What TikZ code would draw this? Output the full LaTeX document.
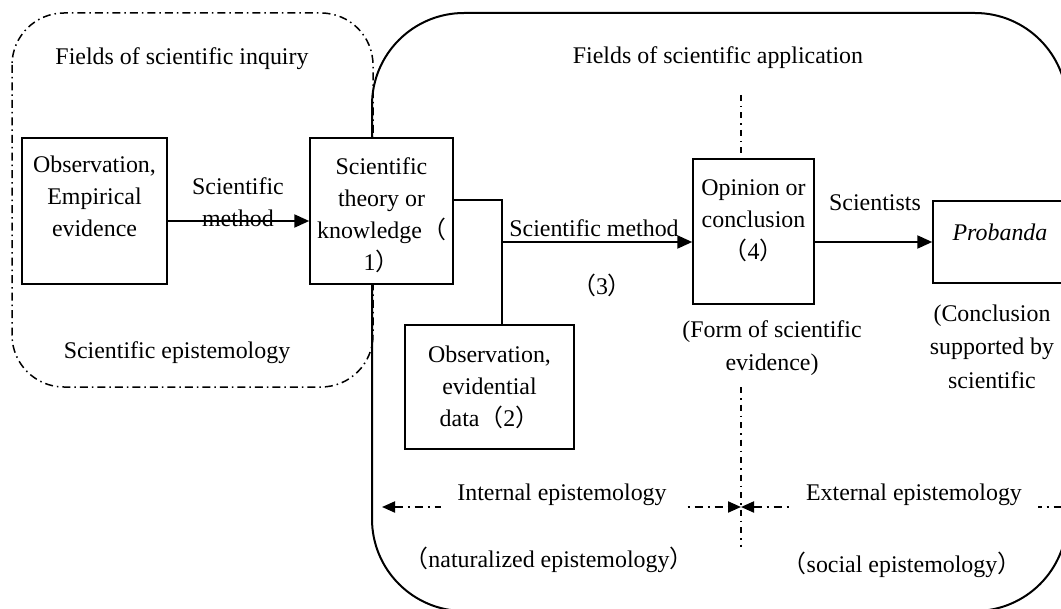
\documentclass[tikz,border=0pt]{standalone}
\usepackage{fontspec}
\setmainfont{Liberation Serif}
\newfontfamily\cjk{Noto Sans CJK SC}
\usetikzlibrary{arrows.meta}
\begin{document}
\begin{tikzpicture}[x=1bp,y=-1bp,
  font=\fontsize{24}{32}\selectfont,
  box/.style={draw,line width=1.5bp,fill=white,inner sep=0pt},
  txt/.style={align=center,inner sep=0pt},
  wtxt/.style={align=center,fill=white,inner xsep=16bp,inner ysep=6bp},
  arr/.style={line width=2.2bp,-{Triangle[length=15bp,width=13bp]}},
  conn/.style={line width=1.5bp},
  ddash/.style={line width=1.5bp,dash pattern=on 8bp off 4bp on 1.5bp off 4bp},
  vdash/.style={line width=1.3bp,dash pattern=on 6bp off 5bp on 1.5bp off 5bp},
  bdash/.style={line width=2bp,dash pattern=on 8bp off 5bp on 2bp off 5bp},
  btip/.tip={Triangle[length=13bp,width=11bp]}]
\useasboundingbox (0,0) rectangle (1061,609);
\clip (0,0) rectangle (1061,609);
% regions
\draw[line width=2bp,rounded corners=92bp] (372,13) rectangle (1067,611);
\draw[ddash,rounded corners=52bp] (12,13) rectangle (373,387);
% region titles
\node[txt] (inq) at (182,59) {Fields of scientific inquiry};
\node[txt] (epi) at (177,353) {Scientific epistemology};
\node[txt] (app) at (718,58) {Fields of scientific application};
% vertical divider
\coordinate (vt) at (741,95);
\coordinate (vb1) at (741,387);
\coordinate (vb2) at (741,547);
% boxes
\node[box,minimum width=145bp,minimum height=146bp] (A) at (94.5,211) {};
\node[box,minimum width=143bp,minimum height=146bp] (B) at (381.5,211) {};
\node[box,minimum width=169bp,minimum height=124bp] (C) at (489.5,387) {};
\node[box,minimum width=121bp,minimum height=145bp] (D) at (753.5,231.5) {};
\node[box,minimum width=167bp,minimum height=82bp] (P) at (1016.5,242) {};
\draw[vdash] (vt) -- (vt |- D.north);
\draw[vdash] (vb1) -- (vb2);
% box texts
\node[txt] (At) at (94.5,196) {Observation,\\Empirical\\evidence};
\node[txt] (Bt) at (381.5,215) {Scientific\\theory or\\knowledge{\cjk （}\\1{\cjk ）}};
\node[txt] (Ct) at (489.5,387) {Observation,\\evidential\\data{\cjk （}2{\cjk ）}};
\node[txt] (Dt) at (753.5,221) {Opinion or\\conclusion\\{\cjk （}4{\cjk ）}};
\node[txt] (Pt) at (1000,232) {\itshape Probanda};
% connectors
\draw[arr] ([yshift=-10bp]A.east) -- ([yshift=-10bp]B.west);
\node[txt] (m1) at (238,202.5) {Scientific\\method};
\draw[conn] ([yshift=11bp]B.east) -| ([xshift=12.5bp]C.north);
\coordinate (J) at (502,242);
\draw[arr] (J) -- (J -| D.west);
\node[txt] (m2) at (594,228) {Scientific method};
\node[txt] (n3) at (602,285) {{\cjk （}3{\cjk ）}};
\draw[arr] (D.east |- P.west) -- (P.west);
\node[txt] (sc) at (875,203) {Scientists};
\node[txt,font=\fontsize{24}{33}\selectfont] (fs) at (772,348.5) {(Form of scientific\\evidence)};
\node[txt,font=\fontsize{24}{33.5}\selectfont] (cs) at (992,346.5) {(Conclusion\\supported by\\scientific};
% bottom epistemologies
\coordinate (mid) at (741,507);
\coordinate (lend) at (382,507);
\coordinate (rend) at (1095,507);
\draw[bdash,btip-btip] (lend) -- (mid);
\draw[bdash,btip-btip] (mid) -- (rend);
\node[wtxt] (ie) at (562,495) {Internal epistemology};
\node[wtxt] (ee) at (914,495) {External epistemology};
\node[txt] (ne) at (549,560) {{\cjk （}naturalized epistemology{\cjk ）}};
\node[txt] (se) at (902,565) {{\cjk （}social epistemology{\cjk ）}};
\end{tikzpicture}
\end{document}
